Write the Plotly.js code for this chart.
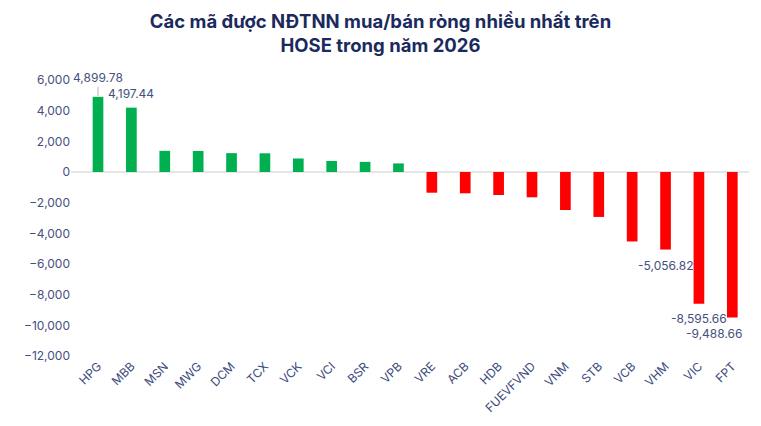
<!DOCTYPE html>
<html><head><meta charset="utf-8">
<script src="https://cdn.plot.ly/plotly-3.0.1.min.js"></script>
<style>html,body{margin:0;padding:0;background:#fff}#c{width:761px;height:426px}</style>
</head><body><div id="c"></div>
<script>
const tickers = ["HPG","MBB","MSN","MWG","DCM","TCX","VCK","VCI","BSR","VPB","VRE","ACB","HDB","FUEVFVND","VNM","STB","VCB","VHM","VIC","FPT"];
const values = [4899.78, 4197.44, 1380, 1370, 1230, 1220, 880, 720, 660, 560, -1350, -1390, -1500, -1650, -2480, -2930, -4530, -5056.82, -8595.66, -9488.66];
const labeled = ["HPG","MBB","VHM","VIC","FPT"];
const labelShift = {MBB:[0,14],VHM:[0,-16],VIC:[0,-15],FPT:[-18,-16]};
const titleText = "Các mã được NĐTNN mua/bán ròng nhiều nhất trên<br>HOSE trong năm 2026";

const colors = values.map(v => v >= 0 ? "#00b050" : "#ff0000");
const fmt = v => v.toLocaleString("en-US",{minimumFractionDigits:2,maximumFractionDigits:2});
const lblFont = {family:"Inter, sans-serif", size:12, color:"#44507e"};

const annotations = tickers.map((t,i)=>({t,i})).filter(o=>labeled.includes(o.t)).map(o=>{
  if (o.t === "HPG") {
    return {x:o.t, y:values[o.i], xref:"x", yref:"y", text:fmt(values[o.i]),
      showarrow:true, arrowhead:0, arrowwidth:1, arrowcolor:"#b5b5b5", ax:0, ay:-19, standoff:1,
      font:lblFont};
  }
  return {x:o.t, y:values[o.i], xref:"x", yref:"y", text:fmt(values[o.i]), showarrow:false,
    xshift:labelShift[o.t][0], yshift:labelShift[o.t][1], font:lblFont};
});

Plotly.newPlot("c",[{
  type:"bar", x:tickers, y:values, marker:{color:colors}, width:0.32, hoverinfo:"none"
}],{
  width:761, height:426,
  margin:{l:71,r:12,t:80,b:70},
  paper_bgcolor:"#fff", plot_bgcolor:"#fff",
  title:{text:titleText, x:0.5, xanchor:"center", yref:"container", y:0.935, yanchor:"middle",
    font:{family:"Inter, sans-serif", size:18.5, color:"#1b2a5e", weight:700}},
  xaxis:{type:"category", tickangle:-45, showgrid:false, showline:false, zeroline:false,
    tickfont:{family:"Inter, sans-serif", size:12, color:"#3c4a7c"}},
  yaxis:{range:[-12000,6000], dtick:2000, tickformat:",d", showgrid:false, zeroline:true,
    zerolinecolor:"#e6e6e6", zerolinewidth:2, showline:false,
    tickfont:{family:"Inter, sans-serif", size:12, color:"#44507e"}},
  annotations:annotations, showlegend:false, bargap:0.68
},{displayModeBar:false, staticPlot:true});
</script></body></html>
